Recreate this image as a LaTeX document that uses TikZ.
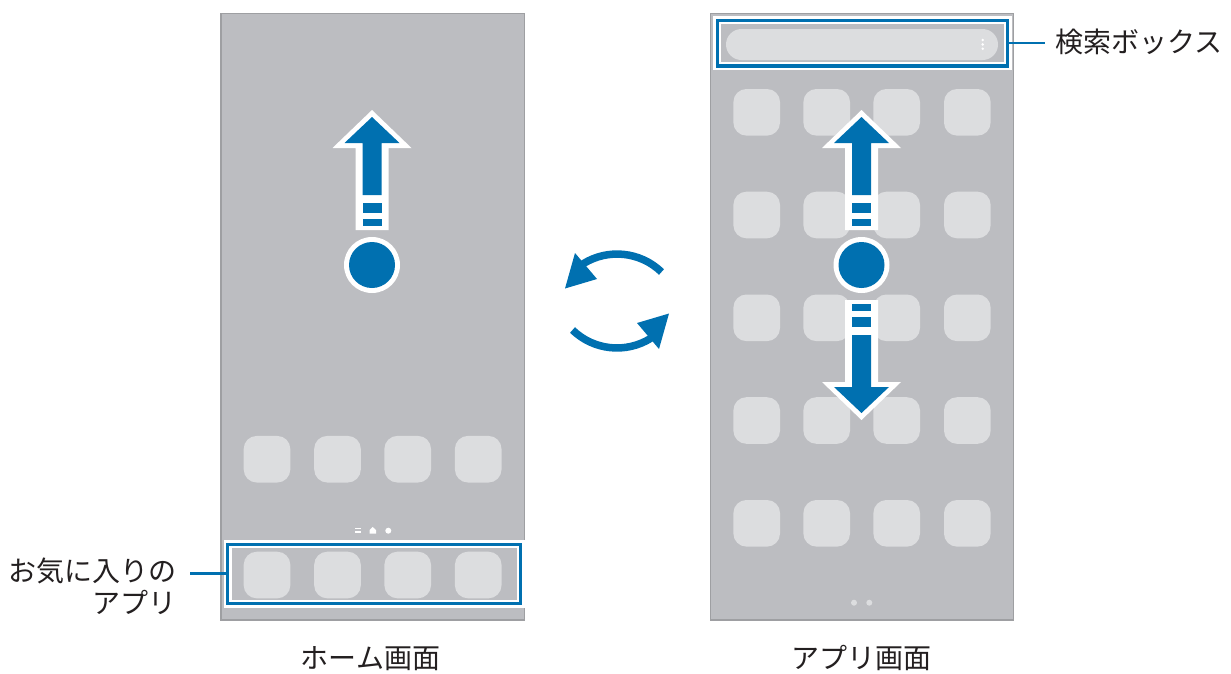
\documentclass[tikz,border=0pt]{standalone}
\usepackage{fontspec}
\setmainfont{Noto Sans CJK JP}
\definecolor{scr}{RGB}{188,189,193}
\definecolor{scrb}{RGB}{158,159,162}
\definecolor{ico}{RGB}{220,221,223}
\definecolor{blu}{RGB}{0,112,176}
\definecolor{txt}{RGB}{35,31,32}
\begin{document}
\begin{tikzpicture}[x=1pt,y=-1pt,
  lbl/.style={font=\fontsize{28}{33}\selectfont, text=txt, inner sep=0pt},
  screen/.style={fill=scr, draw=scrb, line width=1.5pt},
  icon/.style={fill=ico, rounded corners=13pt},
  callout/.style={draw=blu, line width=2.5pt},
  hlw/.style={draw=white, line width=8pt},
  hlb/.style={draw=blu, line width=3.2pt},
  swapline/.style={draw=blu, line width=7.5pt},
  swipe/.pic={
    \fill[white] (0,-155) -- (39.5,-117) -- (16.5,-117) -- (16.5,-35) -- (-16.5,-35) -- (-16.5,-117) -- (-39.5,-117) -- cycle;
    \fill[blu] (0,-148) -- (27.5,-122) -- (9.5,-122) -- (9.5,-70) -- (-9.5,-70) -- (-9.5,-122) -- (-27.5,-122) -- cycle;
    \fill[blu] (-9.5,-62) rectangle (9.5,-52);
    \fill[blu] (-9.5,-46) rectangle (9.5,-39);
  }]
\path[use as bounding box] (0,0) rectangle (1231,673);

% ---------- left screen (home) ----------
\draw[screen] (221,13.5) rectangle (524.5,620);
\foreach \x in {267,337.5,407.7,478.2}{
  \fill[icon] (\x-23.3,459.2-23.3) rectangle (\x+23.3,459.2+23.3);
  \fill[icon] (\x-23.3,575-23.3) rectangle (\x+23.3,575+23.3);
}
% page indicator
\draw[white, line width=1.3pt] (355,528.3) -- (361,528.3) (355,532) -- (361,532);
\fill[white] (369.5,533.5) -- (376,533.5) -- (376,530) -- (372.7,527) -- (369.5,530) -- cycle;
\fill[white] (388.3,530.7) circle (3pt);
% dock highlight
\draw[hlw] (227.7,544.3) rectangle (520.5,603.8);
\draw[hlb] (227.7,544.3) rectangle (520.5,603.8);
% swipe up
\pic at (372,265) {swipe};
\fill[white] (372,265) circle (28pt);
\fill[blu] (372,265) circle (23pt);

% ---------- right screen (apps) ----------
\draw[screen] (710.5,13.5) rectangle (1013.5,620);
\foreach \x in {756.7,826.7,896.7,967.3}{
  \foreach \y in {112.3,215,317.8,420.5,523.3}{
    \fill[icon] (\x-23.3,\y-23.3) rectangle (\x+23.3,\y+23.3);
  }
}
% search bar
\fill[ico, rounded corners=15.5pt] (726,29) rectangle (998,60);
\foreach \y in {40,44.4,48.8}{\fill[white] (982.7,\y) circle (1.4pt);}
\draw[hlw] (717.2,20.3) rectangle (1007.7,66);
\draw[hlb] (717.2,20.3) rectangle (1007.7,66);
% page dots
\fill[ico] (854,602.7) circle (3pt);
\fill[ico] (869.3,602.7) circle (3pt);
% swipe up / down
\pic at (861.5,265) {swipe};
\pic[yscale=-1] at (861.5,265) {swipe};
\fill[white] (861.5,265) circle (28pt);
\fill[blu] (861.5,265) circle (23pt);

% ---------- swap arrows ----------
\draw[swapline] (661.5,272) arc[start angle=-46, end angle=-122, radius=64];
\fill[blu] (575,253) -- (597,279) -- (565,288.5) -- cycle;
\draw[swapline] (572.5,330) arc[start angle=134, end angle=58, radius=64];
\fill[blu] (659,349) -- (637,323) -- (669,313.5) -- cycle;

% ---------- labels ----------
\node[lbl, anchor=base west] (searchlbl) at (1055,52) {検索ボックス};
\coordinate (searchR) at (1009.3,43);
\coordinate (searchT) at (1045,43);
\draw[callout] (searchR) -- (searchT);

\node[lbl, anchor=base east] (fav1) at (176.5,581) {お気に入りの};
\node[lbl, anchor=base east] (fav2) at (176.5,613) {アプリ};
\coordinate (favT) at (190,573.3);
\coordinate (favR) at (226,573.3);
\draw[callout] (favT) -- (favR);

\node[lbl, anchor=base] (homelbl) at (370.5,668) {ホーム画面};
\node[lbl, anchor=base] (applbl) at (861,668) {アプリ画面};
\end{tikzpicture}
\end{document}
